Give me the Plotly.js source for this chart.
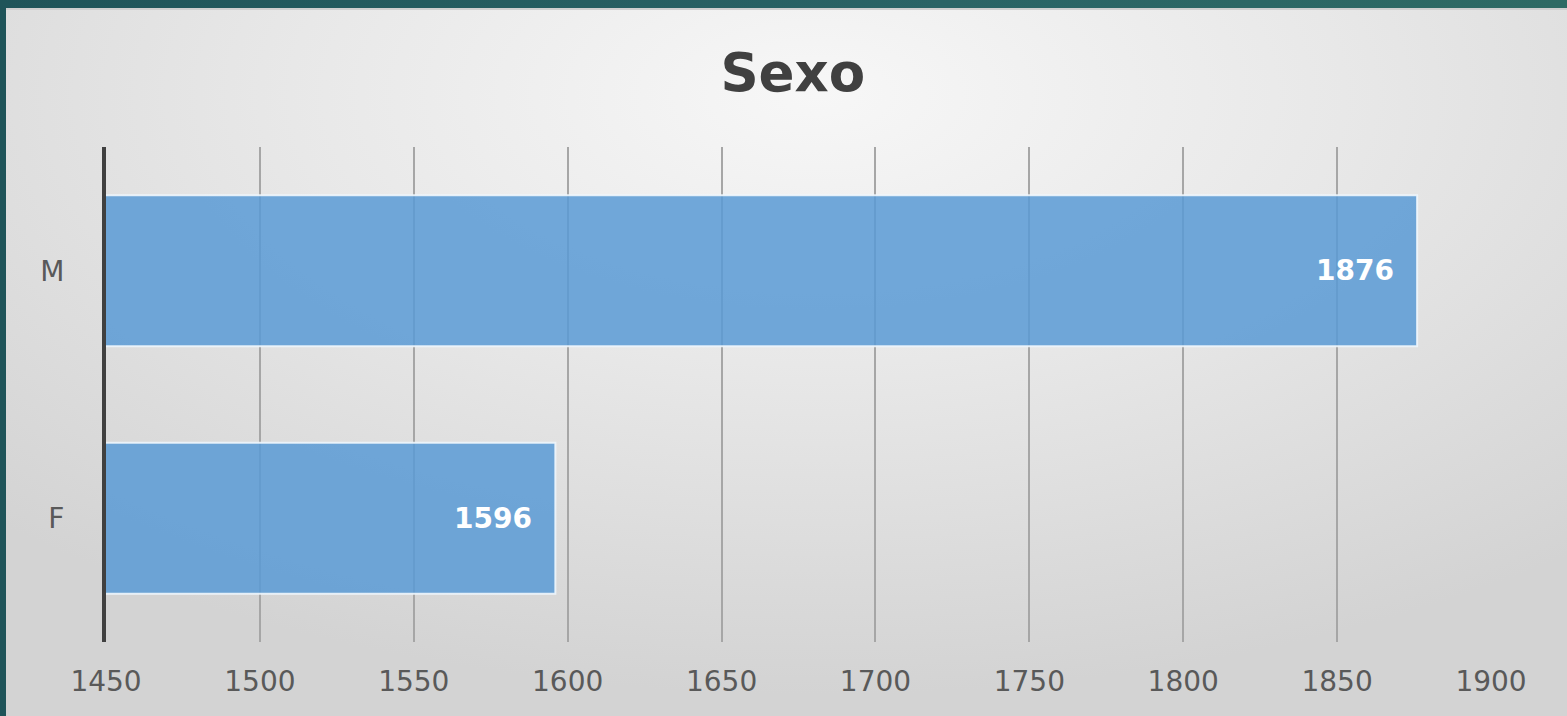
<!DOCTYPE html>
<html>
<head>
<meta charset="utf-8">
<script src="https://cdn.plot.ly/plotly-3.0.1.min.js"></script>
<style>
  html, body { margin: 0; padding: 0; width: 1567px; height: 716px; overflow: hidden;
    background: linear-gradient(90deg, #1f5459 0%, #2a6466 60%, #2e6a64 100%); }
  #chart { position: absolute; left: 6px; top: 8px; width: 1561px; height: 708px;
    background: radial-gradient(ellipse 75% 85% at 52% 12%, #f7f7f7 0%, #e8e8e8 45%, #d3d3d3 100%);
    border-top: 2px solid #cfcfcf; box-sizing: border-box; }
</style>
</head>
<body>
<div id="chart"></div>
<script>
const categories = ["F", "M"];
const values = [1596, 1876];
const xTicks = [1450, 1500, 1550, 1600, 1650, 1700, 1750, 1800, 1850, 1900];
const chartTitle = "Sexo";

const FONT = "DejaVu Sans, Verdana, sans-serif";

const trace = {
  type: "bar",
  orientation: "h",
  y: categories,
  x: values,
  base: 0,
  width: 0.61,
  marker: { color: "rgba(91,155,213,0.86)", line: { color: "rgba(240,246,252,0.9)", width: 2 } },
  hoverinfo: "skip"
};

const annotations = values.map((v, i) => ({
  x: v, y: categories[i], xref: "x", yref: "y",
  text: "<b>" + v + "</b>", showarrow: false,
  xanchor: "right", yanchor: "middle", xshift: -21,
  font: { family: FONT, size: 28, color: "#ffffff" }
}));

const layout = {
  width: 1561, height: 706,
  paper_bgcolor: "rgba(0,0,0,0)",
  plot_bgcolor: "rgba(0,0,0,0)",
  margin: { l: 100, r: 76, t: 137, b: 74 },
  showlegend: false,
  title: {
    text: "<b>" + chartTitle + "</b>",
    x: 0.504, xanchor: "center", y: 0.912, yanchor: "middle",
    font: { family: FONT, size: 53, color: "#404040" }
  },
  xaxis: {
    range: [1450, 1900],
    tickvals: xTicks,
    ticktext: xTicks.map(String),
    showgrid: true, gridcolor: "#a6a6a6", gridwidth: 2,
    zeroline: false, showline: false, ticks: "",
    ticklabelstandoff: 20,
    tickfont: { family: FONT, size: 28, color: "#595959" },
    fixedrange: true
  },
  yaxis: {
    type: "category",
    categoryorder: "array", categoryarray: categories,
    range: [-0.5, 1.5],
    showgrid: false, zeroline: false,
    showline: true, linecolor: "#404040", linewidth: 4,
    ticks: "", ticklabelstandoff: 32,
    tickfont: { family: FONT, size: 28, color: "#595959" },
    fixedrange: true
  },
  annotations: annotations
};

Plotly.newPlot("chart", [trace], layout, { displayModeBar: false, staticPlot: true });
</script>
</body>
</html>
